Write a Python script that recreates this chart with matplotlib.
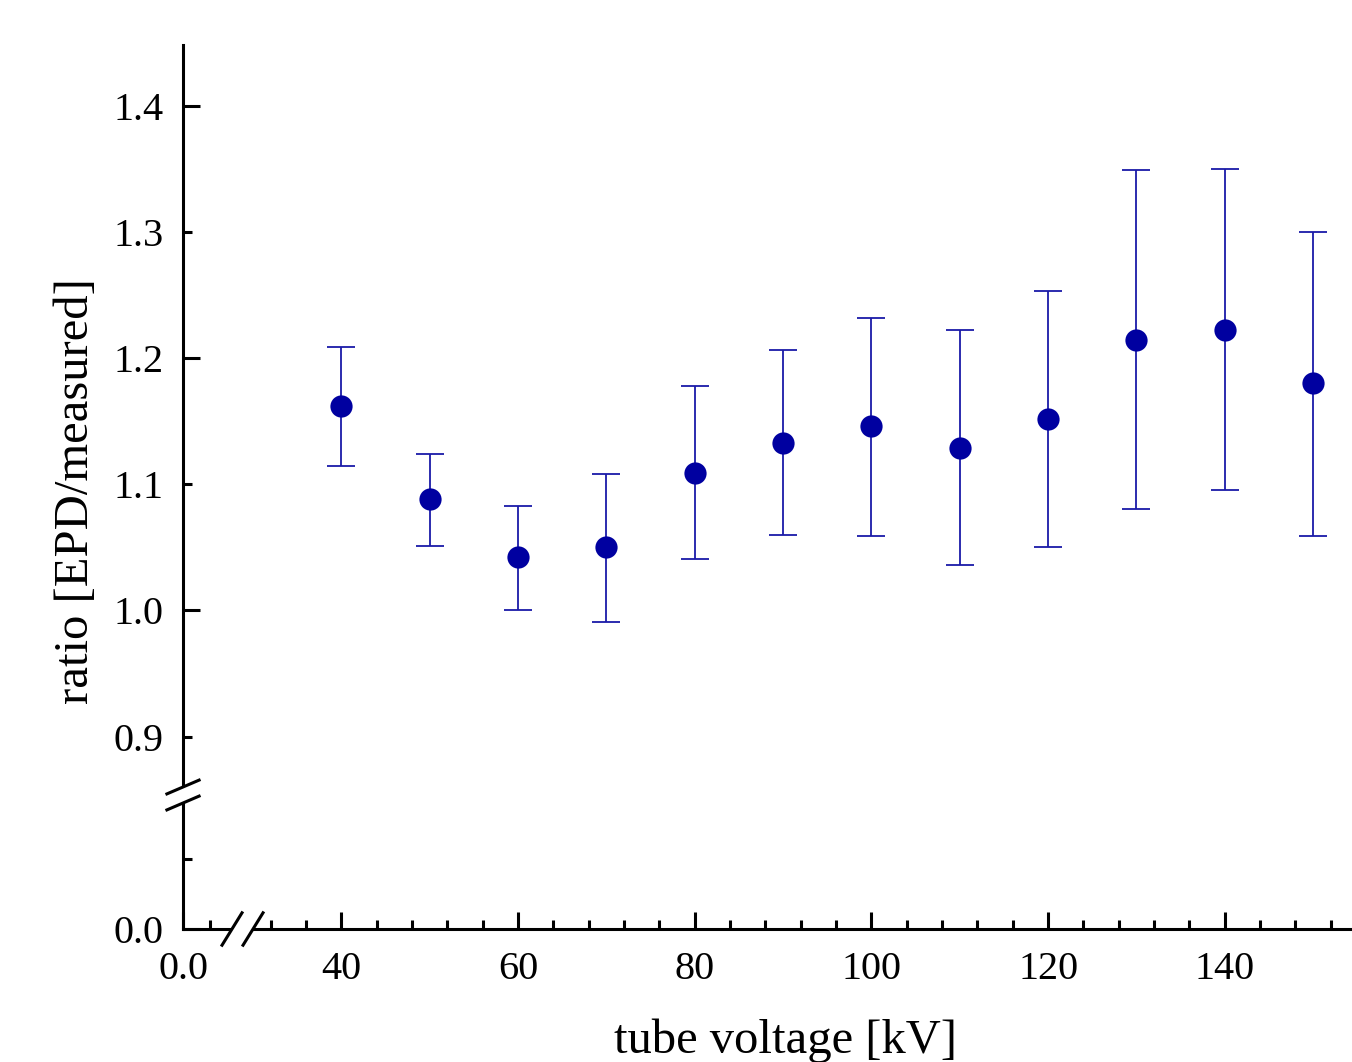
import numpy as np
import matplotlib
matplotlib.use("Agg")
import matplotlib.pyplot as plt
from matplotlib.ticker import FixedLocator, FixedFormatter
from matplotlib.lines import Line2D
from matplotlib.patches import Polygon
from matplotlib.transforms import IdentityTransform

# values
tube_voltage = [40, 50, 60, 70, 80, 90, 100, 110, 120, 130, 140, 150]
ratio = [1.162, 1.088, 1.042, 1.050, 1.109, 1.133, 1.146, 1.129, 1.152, 1.214, 1.222, 1.180]
ratio_low = [1.114, 1.051, 1.000, 0.991, 1.041, 1.060, 1.059, 1.036, 1.050, 1.080, 1.095, 1.059]
ratio_high = [1.209, 1.124, 1.083, 1.108, 1.178, 1.206, 1.232, 1.222, 1.253, 1.349, 1.350, 1.300]

x_major = [40, 60, 80, 100, 120, 140]
x_minor = [4] + [v for v in range(32, 156, 4) if v % 20 != 0]
y_major = [0.0, 1.0, 1.2, 1.4]
y_minor = [0.1, 0.9, 1.1, 1.3]

# broken axes: data value -> pixel offset from the axis origin
x_break_vals = [0, 7.2, 30, 154.4]
x_break_px = [0, 49, 70, 70 + 124.4 * 8.83]
y_break_vals = [0, 0.18, 0.86, 1.448]
y_break_px = [0, 126, 142, 142 + 0.588 * 1262]

MARK = "#0000a0"
W, H = 1352, 1062


def piecewise(xp, fp):
    xp = np.asarray(xp, float)
    fp = np.asarray(fp, float)

    def f(v):
        v = np.asarray(v, float)
        out = np.interp(v, xp, fp)
        lo_slope = (fp[1] - fp[0]) / (xp[1] - xp[0])
        hi_slope = (fp[-1] - fp[-2]) / (xp[-1] - xp[-2])
        out = np.where(v < xp[0], fp[0] + (v - xp[0]) * lo_slope, out)
        out = np.where(v > xp[-1], fp[-1] + (v - xp[-1]) * hi_slope, out)
        return out
    return f


def draw_break(fig, center, dx, dy, gap):
    # two parallel slashes with the axis line blanked between them
    cx, cy = center
    gx, gy = gap
    c1 = (cx - gx / 2, cy - gy / 2)
    c2 = (cx + gx / 2, cy + gy / 2)
    poly = Polygon([(c1[0] - dx / 2, c1[1] - dy / 2), (c1[0] + dx / 2, c1[1] + dy / 2),
                    (c2[0] + dx / 2, c2[1] + dy / 2), (c2[0] - dx / 2, c2[1] - dy / 2)],
                   closed=True, facecolor="white", edgecolor="none",
                   transform=IdentityTransform(), zorder=5)
    fig.add_artist(poly)
    for c in (c1, c2):
        fig.add_artist(Line2D([c[0] - dx / 2, c[0] + dx / 2], [c[1] - dy / 2, c[1] + dy / 2],
                              color="black", lw=2.2, solid_capstyle="butt",
                              transform=IdentityTransform(), zorder=6))


def main():
    plt.rcParams["font.family"] = ["Liberation Serif", "DejaVu Serif"]
    fig = plt.figure(figsize=(W / 100, H / 100), dpi=100)
    ax = fig.add_axes([183 / W, 133 / H, 1169 / W, 884 / H])

    ax.set_xscale("function", functions=(piecewise(x_break_vals, x_break_px),
                                         piecewise(x_break_px, x_break_vals)))
    ax.set_yscale("function", functions=(piecewise(y_break_vals, y_break_px),
                                         piecewise(y_break_px, y_break_vals)))

    v = np.array(tube_voltage)
    r = np.array(ratio)
    yerr = [r - np.array(ratio_low), np.array(ratio_high) - r]
    ax.errorbar(v, r, yerr=yerr, fmt="none", ecolor="#1a1aa8", elinewidth=1.3,
                capsize=10, capthick=1.3, clip_on=False, zorder=3)
    ax.plot(v, r, "o", color=MARK, markersize=16, markeredgewidth=0,
            clip_on=False, zorder=4)

    ax.set_xlim(0, 154.4)
    ax.set_ylim(0, 1.448)

    for side in ("top", "right"):
        ax.spines[side].set_visible(False)
    for side in ("left", "bottom"):
        ax.spines[side].set_linewidth(2.2)

    ax.xaxis.set_major_locator(FixedLocator([0] + x_major))
    ax.xaxis.set_major_formatter(FixedFormatter(["0.0"] + [str(t) for t in x_major]))
    ax.xaxis.set_minor_locator(FixedLocator(x_minor))
    ax.yaxis.set_major_locator(FixedLocator(y_major))
    ax.yaxis.set_major_formatter(FixedFormatter(["%.1f" % t for t in y_major]))
    ax.yaxis.set_minor_locator(FixedLocator(y_minor))
    ax.yaxis.set_minor_formatter(FixedFormatter(["" if t < 0.5 else "%.1f" % t for t in y_minor]))

    ax.tick_params(which="both", direction="in", width=2.2, labelsize=29, color="black")
    ax.tick_params(which="major", length=12)
    ax.tick_params(which="minor", length=6.5)
    ax.tick_params(axis="x", which="major", pad=16)
    ax.tick_params(axis="y", which="both", pad=14)

    fig.text(786 / W, 1 - 1053 / H, "tube voltage [kV]", fontsize=35,
             ha="center", va="baseline")
    fig.text(76 / W, 1 - 491 / H, "ratio [EPD/measured]", fontsize=35,
             rotation=90, ha="center", va="center")

    fig.canvas.draw()
    # break marks on the x axis (between the two segments) and on the y axis
    xa = ax.transData.transform([(x_break_vals[1], 0)])[0]
    xb = ax.transData.transform([(x_break_vals[2], 0)])[0]
    draw_break(fig, ((xa[0] + xb[0]) / 2, xa[1]), 21.6, 35, (xb[0] - xa[0], 0))
    ya = ax.transData.transform([(0, y_break_vals[1])])[0]
    yb = ax.transData.transform([(0, y_break_vals[2])])[0]
    draw_break(fig, (ya[0], (ya[1] + yb[1]) / 2), 35, 15, (0, yb[1] - ya[1]))

    fig.savefig("out.png", dpi=100)


if __name__ == "__main__":
    main()
